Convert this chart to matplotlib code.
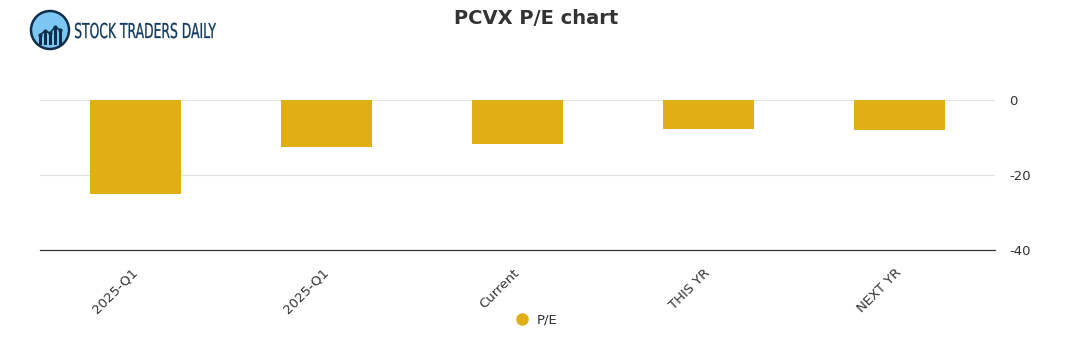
import matplotlib.pyplot as plt
from matplotlib.patches import Circle, Rectangle, PathPatch
from matplotlib.lines import Line2D
from matplotlib.textpath import TextPath
from matplotlib.font_manager import FontProperties
from matplotlib.transforms import Affine2D, ScaledTranslation

# P/E values per period
categories = ["2025-Q1", "2025-Q1", "Current", "THIS YR", "NEXT YR"]
pe_values = [-25.1, -12.5, -11.7, -7.6, -8.1]
y_ticks = [-40, -20, 0]

bar_color = "#E0AE15"
text_color = "#333333"

W, H = 1091, 350
fig = plt.figure(figsize=(W / 100, H / 100), dpi=100)
ax = fig.add_axes([40 / W, 1 - 250 / H, 955 / W, (250 - 62.5) / H])

x = list(range(len(categories)))
ax.bar(x, pe_values, width=0.475, color=bar_color, zorder=3)

ax.set_xlim(-0.5, len(categories) - 0.5)
ax.set_ylim(-40, 10)
ax.set_yticks(y_ticks)
ax.set_yticklabels([str(t) for t in y_ticks], color=text_color, fontsize=9.5)
ax.yaxis.tick_right()
ax.tick_params(axis="y", length=0, pad=10)
ax.grid(axis="y", color="#e3e3e3", linewidth=0.8, zorder=0)

ax.set_xticks(x)
ax.set_xticklabels(categories, rotation=45, ha="right", rotation_mode="anchor",
                   color=text_color, fontsize=9.5)
ax.tick_params(axis="x", length=0, pad=8)
# nudge the slanted labels a little left and down
shift = ScaledTranslation(-5 / 100, -5 / 100, fig.dpi_scale_trans)
for lbl in ax.get_xticklabels():
    lbl.set_transform(lbl.get_transform() + shift)

for side in ["top", "left", "right"]:
    ax.spines[side].set_visible(False)
ax.spines["bottom"].set_color("#333333")
ax.spines["bottom"].set_linewidth(0.9)

fig.text(536 / W, 1 - 18 / H, "PCVX P/E chart", ha="center", va="center",
         fontsize=14, fontweight="bold", color=text_color)

# legend
handle = Line2D([], [], marker="o", linestyle="none", markersize=8,
                markerfacecolor=bar_color, markeredgecolor=bar_color, label="P/E")
fig.legend(handles=[handle], loc="center", bbox_to_anchor=(533 / W, 1 - 320 / H),
           frameon=False, fontsize=9.5, handletextpad=0.1, labelcolor=text_color)

# logo badge
logo = fig.add_axes([28 / W, 1 - 52 / H, 44 / W, 44 / H])
logo.set_xlim(0, 44)
logo.set_ylim(0, 44)
logo.set_aspect("equal")
logo.axis("off")
logo.add_patch(Circle((22, 22), 19, facecolor="#7cc6f2", edgecolor="#0f2e4a", linewidth=1.8))
for bx, bh in [(11, 8), (16, 12), (21, 10), (26, 16), (31, 13)]:
    logo.add_patch(Rectangle((bx, 7), 3.2, bh, facecolor="#0f2e4a", edgecolor="none"))
logo.plot([12, 17, 22, 27, 32], [17, 21, 19, 25, 22], color="#0f2e4a", linewidth=1.2,
          marker="o", markersize=2)

# condensed brand name, squeezed horizontally
brand = TextPath((0, 0), "STOCK TRADERS DAILY", size=10,
                 prop=FontProperties(family="DejaVu Sans"))
ext = brand.get_extents()
sx = 141 / ext.width
sy = 15 / 7.3
tr = Affine2D().translate(-ext.x0, 0).scale(sx, sy).translate(75, H - 38)
fig.add_artist(PathPatch(brand, transform=tr, facecolor="#123a5c",
                         edgecolor="#123a5c", linewidth=0.2))

fig.savefig("out.png", dpi=100)
